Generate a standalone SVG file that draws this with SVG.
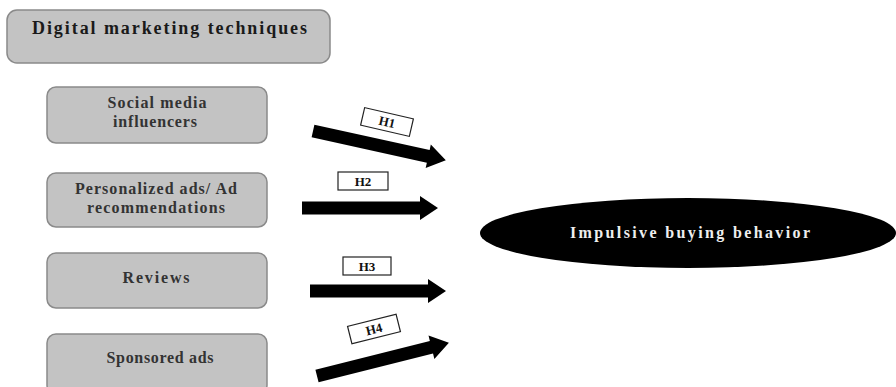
<svg xmlns="http://www.w3.org/2000/svg" width="896" height="387" viewBox="0 0 896 387">
<style>
.box{fill:#c3c3c3;stroke:#8a8a8a;stroke-width:1.5}
.t{font-family:"Liberation Serif","DejaVu Serif",serif;font-weight:bold;fill:#1a1a1a;text-anchor:middle}
.bt{font-size:16px;fill:#333}
.lab{fill:#fff;stroke:#222;stroke-width:1.2}
.lt{font-family:"Liberation Serif","DejaVu Serif",serif;font-weight:bold;font-size:13px;fill:#111;text-anchor:middle}
.arr{fill:#000}
</style>
<defs>
<path id="arrow" class="arr" d="M0,-6.5 H118 V-12 L136,0 L118,12 V6.5 H0 Z"/>
</defs>
<rect width="896" height="387" fill="#fff"/>
<g id="title">
<rect class="box" x="7" y="10" width="323" height="53" rx="10"/>
<text class="t" x="169.5" y="34" font-size="18" textLength="275" lengthAdjust="spacing">Digital marketing techniques</text>
</g>
<g id="social">
<rect class="box" x="47" y="87" width="220" height="56" rx="9"/>
<text class="t bt" x="157" y="108" textLength="99" lengthAdjust="spacing">Social media</text>
<text class="t bt" x="155" y="127" textLength="84" lengthAdjust="spacing">influencers</text>
</g>
<g id="personalized">
<rect class="box" x="47" y="173" width="220" height="54" rx="9"/>
<text class="t bt" x="156" y="194" textLength="162" lengthAdjust="spacing">Personalized ads/ Ad</text>
<text class="t bt" x="156" y="213" textLength="138" lengthAdjust="spacing">recommendations</text>
</g>
<g id="reviews">
<rect class="box" x="47" y="253" width="220" height="55" rx="9"/>
<text class="t bt" x="156" y="283" textLength="67" lengthAdjust="spacing">Reviews</text>
</g>
<g id="sponsored">
<rect class="box" x="47" y="334" width="220" height="60" rx="9"/>
<text class="t bt" x="160" y="363" textLength="107" lengthAdjust="spacing">Sponsored ads</text>
</g>
<g id="impulsive">
<ellipse cx="688" cy="233" rx="208" ry="35" fill="#000"/>
<text class="t" x="690" y="238" font-size="16" style="fill:#eeeeee" textLength="240" lengthAdjust="spacing">Impulsive buying behavior</text>
</g>
<g id="connectors">
<use href="#arrow" transform="translate(313,131) rotate(12.4)"/>
<use href="#arrow" transform="translate(302,208)"/>
<use href="#arrow" transform="translate(310,291)"/>
<use href="#arrow" transform="translate(317,376) rotate(-14.1)"/>
<g transform="translate(387,122) rotate(13)">
<rect class="lab" x="-25" y="-9" width="50" height="18"/>
<text class="lt" x="0" y="4.5">H1</text>
</g>
<g transform="translate(363,181)">
<rect class="lab" x="-25" y="-9" width="50" height="18"/>
<text class="lt" x="0" y="4.5">H2</text>
</g>
<g transform="translate(367,266)">
<rect class="lab" x="-24" y="-9" width="48" height="18"/>
<text class="lt" x="0" y="4.5">H3</text>
</g>
<g transform="translate(374,329) rotate(-14)">
<rect class="lab" x="-25" y="-9" width="50" height="18"/>
<text class="lt" x="0" y="4.5">H4</text>
</g>
</g>
</svg>
